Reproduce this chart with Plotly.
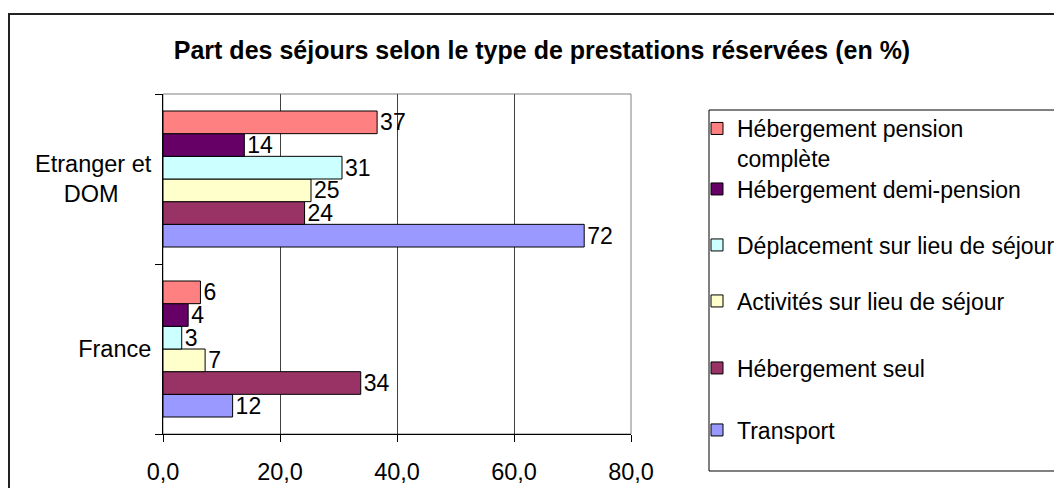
import plotly.graph_objects as go

categories = ["France", "Etranger et<br>DOM\u00a0\u00a0\u00a0\u00a0\u00a0"]
series_names = [
    "Transport",
    "Hébergement seul",
    "Activités sur lieu de séjour",
    "Déplacement sur lieu de séjour",
    "Hébergement demi-pension",
    "Hébergement pension<br>complète",
]
series_colors = ["#9999FF", "#993366", "#FFFFCC", "#CCFFFF", "#660066", "#FF8080"]
# values per series: [France, Etranger et DOM]
transport = [11.9, 72.0]
heberg_seul = [33.8, 24.2]
activites = [7.2, 25.3]
deplacement = [3.2, 30.6]
demi_pension = [4.3, 13.9]
pension_complete = [6.4, 36.6]
series_values = [transport, heberg_seul, activites, deplacement, demi_pension, pension_complete]
legend_ids = ["legend6", "legend5", "legend4", "legend3", "legend2", "legend"]

FONT = "Liberation Sans, Arial, sans-serif"
OFF = 8  # page body margin
W, H = 1062 - OFF, 496 - 2 * OFF
# plot area in viewport pixels
PX0, PX1, PY0, PY1 = 163, 631, 94, 434
L = PX0 - OFF
T = PY0 - OFF
PW, PH = PX1 - PX0, PY1 - PY0
R = W - L - PW
B = H - T - PH

def px_x(x):
    return (x - PX0) / PW

def px_y(y):
    return (PY1 - y) / PH

fig = go.Figure()
for name, color, vals, lg in zip(series_names, series_colors, series_values, legend_ids):
    fig.add_trace(go.Bar(
        y=categories, x=vals, name=name, orientation="h",
        marker=dict(color=color, line=dict(color="black", width=1)),
        texttemplate="%{x:.0f}", textposition="outside",
        textfont=dict(family=FONT, size=23, color="black"),
        constraintext="none", cliponaxis=False, legend=lg,
    ))

legend_centers = {"legend": 125, "legend2": 189, "legend3": 245,
                  "legend4": 301, "legend5": 368, "legend6": 430}
legend_layout = {}
for lg, yc in legend_centers.items():
    d = dict(x=px_x(697), xanchor="left", bgcolor="rgba(0,0,0,0)", borderwidth=0,
             font=dict(family=FONT, size=23, color="black"))
    if lg == "legend":
        d.update(y=px_y(yc - 18), yanchor="top", valign="top")
    else:
        d.update(y=px_y(yc), yanchor="middle")
    legend_layout[lg] = d

fig.update_layout(
    width=W, height=H,
    margin=dict(l=L, r=R, t=T, b=B, autoexpand=False),
    paper_bgcolor="white", plot_bgcolor="white",
    barmode="group", bargap=0.2, bargroupgap=0,
    separators=", ",
    showlegend=True,
    title=dict(text="<b>Part des séjours selon le type de prestations réservées (en %)</b>",
               x=(542 - OFF) / W, xanchor="center", y=1 - (50 - OFF) / H, yanchor="middle",
               font=dict(family=FONT, size=25, color="black")),
    xaxis=dict(range=[0, 80], dtick=20, tick0=0, tickformat=".1f",
               showgrid=True, gridcolor="#404040", gridwidth=1,
               showline=True, linecolor="black", linewidth=1,
               ticks="outside", ticklen=7, tickcolor="black", ticklabelstandoff=10,
               tickfont=dict(family=FONT, size=23.5, color="black"),
               zeroline=False, fixedrange=True),
    yaxis=dict(type="category", tickson="boundaries", ticks="outside", ticklen=7,
               tickcolor="black", showline=True, linecolor="black", linewidth=1,
               ticklabelstandoff=6,
               showgrid=False, tickfont=dict(family=FONT, size=23.5, color="black"),
               fixedrange=True),
    shapes=[
        dict(type="rect", xref="paper", yref="paper", x0=0, x1=1, y0=0, y1=1,
             line=dict(color="#808080", width=1), layer="below"),
        dict(type="rect", xref="paper", yref="paper", x0=px_x(709), x1=px_x(1090),
             y0=px_y(471), y1=px_y(110), line=dict(color="black", width=1)),
        dict(type="rect", xref="paper", yref="paper", x0=px_x(9), x1=px_x(1090),
             y0=px_y(530), y1=px_y(14), line=dict(color="#222222", width=2)),
    ],
    **legend_layout,
)

fig.write_html("out.html")
